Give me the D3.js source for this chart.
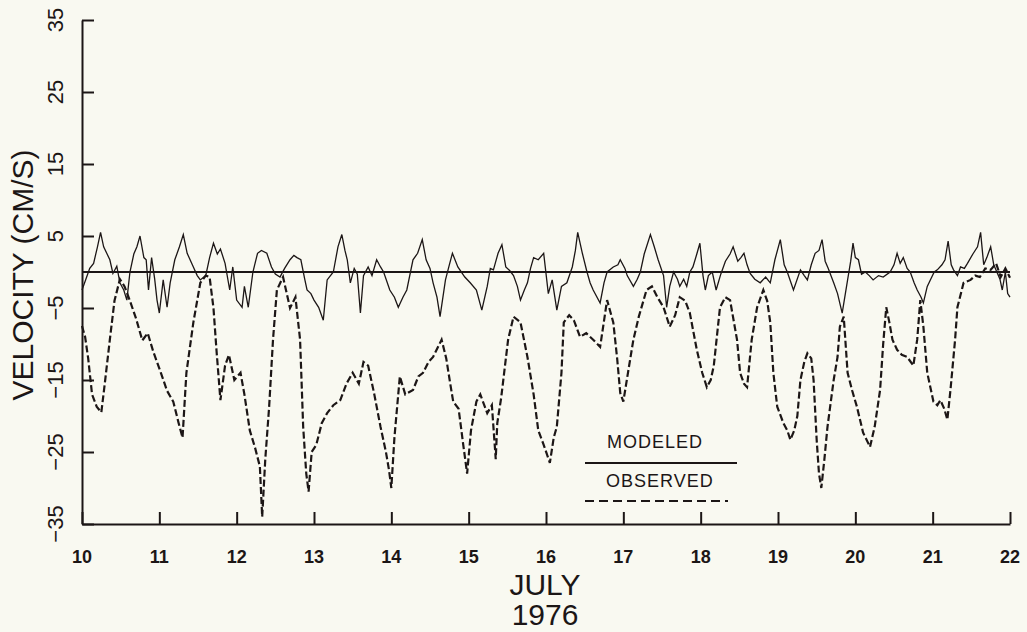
<!DOCTYPE html>
<html>
<head>
<meta charset="utf-8">
<script src="https://cdn.jsdelivr.net/npm/d3@7"></script>
<style>
    body { margin: 0; background: #f9f9f1; }
    svg { display: block; background: #f9f9f1; }
    text { font-family: "Liberation Sans", Arial, sans-serif; fill: #1c1616; }
</style>
</head>
<body>
<div id="graph1"></div>
<script>

// tick values
var dayTicks = [10, 11, 12, 13, 14, 15, 16, 17, 18, 19, 20, 21, 22];
var velTicks = [-35, -25, -15, -5, 5, 15, 25, 35];

// modeled velocity [day of July, cm/s]
var modeled = [
    [10.00, -2.5], [10.05, -1], [10.10, 0.5], [10.15, 1.2], [10.20, 3.5], [10.24, 5.5], [10.28, 3.5],
    [10.32, 2.6], [10.36, 1.7], [10.40, -0.2], [10.45, 0.8], [10.49, -1.5], [10.54, -2.5], [10.58, -3.9],
    [10.62, 0], [10.67, 2.5], [10.71, 3.5], [10.75, 5], [10.80, 2], [10.83, 1.7], [10.86, -2.5],
    [10.90, 2], [10.94, -1], [10.97, -3.9], [11.00, -5.7], [11.05, -1.1], [11.10, -4.9], [11.14, -1.5],
    [11.20, 1.7], [11.26, 3.5], [11.31, 5.2], [11.36, 2.6], [11.44, 0.7], [11.49, -0.5], [11.53, -1.1],
    [11.60, -0.5], [11.65, 2], [11.70, 4], [11.75, 2.5], [11.79, 3.2], [11.85, 1.2], [11.91, -2.5],
    [11.95, 0.7], [12.00, -3.9], [12.07, -4.9], [12.10, -2], [12.15, -4.9], [12.21, 0], [12.27, 2.6],
    [12.32, 3], [12.39, 2.6], [12.45, 0.7], [12.50, -0.3], [12.56, -0.7], [12.62, 0.5], [12.69, 1.7],
    [12.74, 2.3], [12.78, 2], [12.83, 1.7], [12.88, -1], [12.91, -2.5], [12.96, -3], [13.00, -3.9],
    [13.06, -4.9], [13.12, -6.7], [13.17, -1.1], [13.25, 0], [13.31, 3.5], [13.36, 5.2], [13.40, 3],
    [13.43, 1.7], [13.47, -1.5], [13.52, 0.5], [13.56, -0.3], [13.60, -5.7], [13.64, -0.5], [13.70, 0.7],
    [13.75, -0.5], [13.81, 1.7], [13.86, 0.7], [13.90, 0], [13.98, -2.5], [14.04, -3.5], [14.09, -4.9],
    [14.15, -3.5], [14.20, -2.5], [14.28, 1.7], [14.34, 2.6], [14.40, 4.5], [14.45, 1.7], [14.50, 0.5],
    [14.54, -1.5], [14.59, -3.5], [14.63, -6.2], [14.70, -1.1], [14.75, 1], [14.79, 2.6], [14.86, 0.7],
    [14.95, -0.7], [15.02, -1.5], [15.10, -2.5], [15.17, -5.3], [15.24, -2], [15.28, 0.5], [15.32, 0.3],
    [15.38, 2.6], [15.43, 3.8], [15.48, 0.7], [15.53, 0.2], [15.58, -0.5], [15.63, -2], [15.67, -3.9],
    [15.72, -2.5], [15.76, -1.5], [15.80, 0.5], [15.84, 2], [15.90, 1.7], [15.97, 2.6], [16.03, -3],
    [16.08, -1.1], [16.14, -5.3], [16.20, -2], [16.27, -1.5], [16.34, 0.7], [16.38, 3], [16.41, 5.5],
    [16.47, 2.6], [16.53, 0], [16.57, -1.5], [16.61, -2.5], [16.70, -4.3], [16.75, -1.5], [16.79, 0],
    [16.87, 0.7], [16.93, 1], [16.96, 1.7], [17.02, 0.5], [17.05, -0.5], [17.13, -2], [17.18, -1],
    [17.22, 0], [17.27, 2.5], [17.30, 3.5], [17.35, 5.2], [17.40, 3.5], [17.45, 1.7], [17.52, -0.5],
    [17.56, -4.9], [17.60, -2], [17.65, 0], [17.70, -1], [17.73, -2], [17.78, -1], [17.82, -2],
    [17.86, 0], [17.90, 0.7], [17.95, 2.5], [17.99, 4], [18.03, -0.5], [18.06, -2.5], [18.10, -0.5],
    [18.15, 0], [18.20, -2.5], [18.26, -0.3], [18.32, 1.5], [18.38, 2.5], [18.42, 3.5], [18.48, 1.5],
    [18.52, 2], [18.56, 2.6], [18.60, 1], [18.64, -0.2], [18.70, -1], [18.77, -1.5], [18.84, -0.7],
    [18.90, -1.5], [18.96, 1.7], [19.03, 4.5], [19.08, 1], [19.12, 0], [19.20, -2.5], [19.29, 0.3],
    [19.34, -0.5], [19.38, -1.1], [19.43, 1], [19.48, 2.6], [19.53, 3], [19.57, 4.5], [19.61, 1.5],
    [19.65, 0.5], [19.72, -1.5], [19.77, -3], [19.83, -5.7], [19.90, -1.1], [19.94, 1.5], [19.97, 4],
    [20.00, 2], [20.04, 1.7], [20.08, -0.3], [20.13, 0], [20.18, -0.5], [20.23, -1.1], [20.30, -0.5],
    [20.36, -0.7], [20.45, 0], [20.50, 1], [20.54, 2.6], [20.58, 1.2], [20.62, 2], [20.67, 0.5],
    [20.71, 0], [20.76, -1.5], [20.80, -2.5], [20.85, -3.5], [20.88, -4.3], [20.93, -2], [20.97, -1.1],
    [21.02, 0], [21.06, 0.3], [21.12, 1], [21.16, 1.7], [21.20, 4.3], [21.24, 1], [21.27, 0.3],
    [21.32, -0.5], [21.36, 0.7], [21.41, 0.5], [21.45, 1.2], [21.52, 2.5], [21.58, 3.5], [21.62, 5.5],
    [21.66, 1], [21.70, 2], [21.75, 3.5], [21.79, 1], [21.83, 0], [21.87, -1], [21.90, -2.5],
    [21.94, 0], [21.97, -3], [22.00, -3.5]
];

// observed velocity [day of July, cm/s]
var observed = [
    [10.00, -7.5], [10.04, -9], [10.08, -12], [10.13, -17], [10.19, -18.7], [10.25, -19.5], [10.30, -15],
    [10.36, -9.4], [10.42, -4], [10.49, -1], [10.55, -2], [10.62, -4], [10.70, -6.5], [10.78, -9.5],
    [10.85, -8.5], [10.92, -11], [10.97, -12.5], [11.02, -14], [11.10, -16.5], [11.18, -18], [11.25, -21],
    [11.30, -23], [11.35, -14], [11.44, -7], [11.53, -1.5], [11.60, -0.5], [11.65, -0.7], [11.70, -5],
    [11.74, -11], [11.79, -17.8], [11.85, -13], [11.90, -11.5], [11.97, -15], [12.05, -14], [12.10, -17],
    [12.17, -22], [12.24, -24.5], [12.30, -27], [12.33, -34], [12.37, -26], [12.42, -18.7], [12.47, -9.4],
    [12.52, -2.5], [12.60, -0.7], [12.69, -5], [12.76, -3.5], [12.82, -9.4], [12.86, -21.5], [12.90, -28],
    [12.93, -30.5], [12.97, -25], [13.03, -24], [13.10, -21], [13.17, -19.6], [13.25, -18.5], [13.34, -17.8],
    [13.42, -15.5], [13.50, -14], [13.58, -15.5], [13.64, -12.5], [13.70, -13], [13.78, -17], [13.86, -21.5],
    [13.93, -25], [13.97, -27.5], [14.00, -30], [14.04, -23], [14.11, -14.5], [14.18, -17], [14.28, -16.4],
    [14.35, -14.5], [14.41, -14], [14.48, -12.5], [14.54, -11.8], [14.60, -10.5], [14.65, -9.4], [14.71, -12],
    [14.76, -15.4], [14.80, -18], [14.87, -19], [14.93, -24], [14.98, -28], [15.03, -22], [15.10, -18],
    [15.15, -17], [15.24, -19.6], [15.30, -18.5], [15.35, -26], [15.37, -21], [15.42, -17.5], [15.47, -13],
    [15.51, -9.4], [15.58, -6.2], [15.67, -7], [15.76, -11.8], [15.84, -17], [15.90, -22], [15.97, -24],
    [16.05, -26.5], [16.10, -23], [16.14, -21.5], [16.20, -14], [16.23, -7], [16.30, -6], [16.36, -6.7],
    [16.44, -9], [16.52, -8.5], [16.61, -9.4], [16.70, -10.4], [16.79, -3.9], [16.87, -7], [16.92, -12],
    [16.96, -16.8], [17.00, -18], [17.06, -14], [17.13, -9.4], [17.20, -6.2], [17.30, -2.5], [17.37, -2],
    [17.44, -3.5], [17.52, -4.9], [17.60, -7.6], [17.67, -6], [17.73, -3.5], [17.80, -4], [17.86, -5.7],
    [17.95, -10.8], [18.02, -14], [18.08, -16], [18.13, -15], [18.17, -13], [18.25, -4.9], [18.32, -3.5],
    [18.38, -3.9], [18.47, -9.4], [18.51, -14], [18.56, -15.5], [18.60, -16], [18.66, -9.4], [18.73, -4.9],
    [18.81, -2.5], [18.86, -4], [18.90, -7], [18.94, -14], [18.99, -18.7], [19.07, -21], [19.12, -22],
    [19.16, -23.3], [19.21, -22], [19.25, -20], [19.29, -15], [19.34, -12.5], [19.38, -11.3], [19.43, -12],
    [19.46, -15], [19.50, -23.3], [19.53, -28], [19.56, -30], [19.60, -26], [19.64, -21.5], [19.72, -15],
    [19.77, -11.8], [19.80, -7.6], [19.85, -6.2], [19.90, -14], [19.96, -16.5], [20.02, -18.7], [20.10, -22.3],
    [20.19, -24.3], [20.25, -21.5], [20.32, -16.4], [20.36, -10], [20.40, -4.9], [20.44, -7], [20.48, -9.4],
    [20.54, -10.8], [20.60, -11.5], [20.67, -11.8], [20.75, -13], [20.80, -9.4], [20.84, -3.9], [20.88, -7.6],
    [20.93, -14], [21.01, -18], [21.06, -18.5], [21.10, -17.8], [21.15, -19], [21.19, -20.5], [21.23, -16.4],
    [21.29, -9.4], [21.32, -4.9], [21.40, -1.5], [21.49, -1.1], [21.55, -0.5], [21.61, -0.7], [21.68, 0.5],
    [21.75, 0.3], [21.82, 1.2], [21.88, -0.7], [21.94, 0.5], [22.00, -0.8]
];

var ink = "#1c1616";

// set the dimensions and margins of the graph
var margin = {top: 20, right: 17, bottom: 108, left: 82},
    width = 1027 - margin.left - margin.right,
    height = 632 - margin.top - margin.bottom;

// set the ranges
var x = d3.scaleLinear().domain([10, 22]).range([0, width]);
var y = d3.scaleLinear().domain([-35, 35]).range([height, 0]);

var svg = d3.select("#graph1").append("svg")
    .attr("width", width + margin.left + margin.right)
    .attr("height", height + margin.top + margin.bottom)
    .append("g")
    .attr("transform", "translate(" + margin.left + "," + margin.top + ")");

// zero line
svg.append("line")
    .attr("x1", 0).attr("x2", x(22))
    .attr("y1", y(0)).attr("y2", y(0))
    .attr("stroke", ink).attr("stroke-width", 2);

var line = d3.line()
    .x(function (d) { return x(d[0]); })
    .y(function (d) { return y(d[1]); });

// observed (dashed)
svg.append("path")
    .datum(observed)
    .attr("d", line)
    .attr("fill", "none")
    .attr("stroke", ink)
    .attr("stroke-width", 2.2)
    .attr("stroke-dasharray", "7,3");

// modeled (solid)
svg.append("path")
    .datum(modeled)
    .attr("d", line)
    .attr("fill", "none")
    .attr("stroke", ink)
    .attr("stroke-width", 1.3);

// Add the X Axis (ticks point up into the plot)
var xAxis = svg.append("g")
    .attr("transform", "translate(0," + height + ")")
    .call(d3.axisBottom(x).tickValues(dayTicks).tickSizeInner(-12).tickSizeOuter(0).tickFormat(""));

// Add the Y Axis (ticks point right into the plot)
var yAxis = svg.append("g")
    .call(d3.axisLeft(y).tickValues(velTicks).tickSizeInner(-12).tickSizeOuter(0).tickFormat(""));

[xAxis, yAxis].forEach(function (a) {
    a.select(".domain").attr("stroke", ink).attr("stroke-width", 2);
    a.selectAll(".tick line").attr("stroke", ink).attr("stroke-width", 2);
});

// day labels
svg.selectAll(".daylab")
    .data(dayTicks)
    .enter().append("text")
    .attr("x", function (d) { return x(d); })
    .attr("y", height + 39)
    .attr("text-anchor", "middle")
    .style("font-size", "18px")
    .style("font-weight", "bold")
    .text(function (d) { return d; });

// velocity labels, rotated
svg.selectAll(".vellab")
    .data(velTicks)
    .enter().append("text")
    .attr("transform", function (d) { return "translate(-19," + y(d) + ") rotate(-90)"; })
    .attr("text-anchor", "middle")
    .style("font-size", "22px")
    .text(function (d) { return d < 0 ? "\u2212" + Math.abs(d) : d; });

// axis titles
svg.append("text")
    .attr("transform", "translate(-49," + (y(0) + 3) + ") rotate(-90)")
    .attr("text-anchor", "middle")
    .style("font-size", "30px")
    .text("VELOCITY (CM/S)");

svg.append("text")
    .attr("x", 463).attr("y", height + 71)
    .attr("text-anchor", "middle")
    .style("font-size", "30px")
    .text("JULY");

svg.append("text")
    .attr("x", 463).attr("y", height + 101)
    .attr("text-anchor", "middle")
    .style("font-size", "30px")
    .text("1976");

// legend
var legend = svg.append("g").attr("transform", "translate(503,0)");

legend.append("text")
    .attr("x", 22).attr("y", 428)
    .style("font-size", "18px")
    .style("letter-spacing", "1px")
    .text("MODELED");

legend.append("line")
    .attr("x1", 0).attr("x2", 152)
    .attr("y1", 443).attr("y2", 443)
    .attr("stroke", ink).attr("stroke-width", 2);

legend.append("text")
    .attr("x", 21).attr("y", 467)
    .style("font-size", "18px")
    .style("letter-spacing", "1px")
    .text("OBSERVED");

legend.append("line")
    .attr("x1", 0).attr("x2", 143)
    .attr("y1", 481).attr("y2", 481)
    .attr("stroke", ink).attr("stroke-width", 2)
    .attr("stroke-dasharray", "9,5");

</script>
</body>
</html>
